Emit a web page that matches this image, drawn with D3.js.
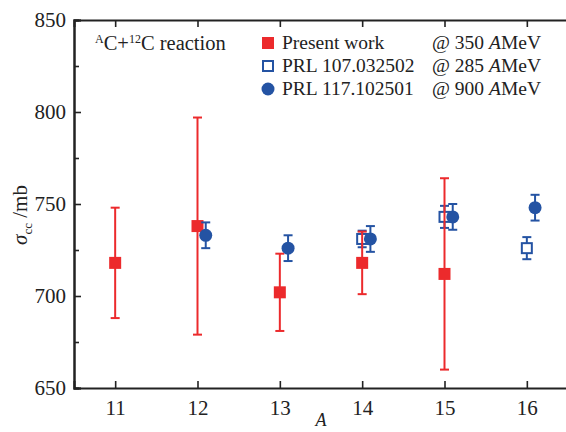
<!DOCTYPE html>
<html><head><meta charset="utf-8">
<script src="https://cdn.jsdelivr.net/npm/d3@7"></script>
<style>body{margin:0;background:#fff}svg{display:block}svg text{font-family:"Liberation Serif","Times New Roman",serif}</style>
</head><body>
<svg id="c" width="566" height="432" font-family="Liberation Serif"></svg>
<script>
const massNumbers = [11, 12, 13, 14, 15, 16];
const yTicks = [650, 700, 750, 800, 850];
const presentA = [11, 12, 13, 14, 15];
const presentVal = [718, 738, 702, 718, 712];
const presentLo = [688, 679, 681, 701, 660];
const presentHi = [748, 797, 723, 735, 764];
const prl107A = [14, 15, 16];
const prl107Val = [731, 743, 726];
const prl107Err = [4.5, 6, 6];
const prl117A = [12, 13, 14, 15, 16];
const prl117Val = [733, 726, 731, 743, 748];
const prl117Err = [7, 7, 7, 7, 7];

const RED = "#ec2a2c", BLUE = "#2453a3";
const SERIF = "'Liberation Serif','Times New Roman',serif";
const svg = d3.select("#c");
const x = d3.scaleLinear().domain([10.5, 16.5]).range([74, 568]);
const y = d3.scaleLinear().domain([650, 850]).range([388, 20]);

// axes
const gx = svg.append("g").attr("transform", "translate(0,388)")
  .call(d3.axisBottom(x).tickValues(massNumbers).tickSize(-7).tickPadding(12).tickFormat(d3.format("d")));
const gxTop = svg.append("g").attr("transform", "translate(0,20)")
  .call(d3.axisTop(x).tickValues(massNumbers).tickSize(-7).tickFormat(""));
const gy = svg.append("g").attr("transform", "translate(74,0)")
  .call(d3.axisLeft(y).tickValues(yTicks).tickSize(-7).tickPadding(8));
const gyMinor = svg.append("g").attr("transform", "translate(74,0)")
  .call(d3.axisLeft(y).tickValues([675, 725, 775, 825]).tickSize(-5).tickFormat(""));
[gx, gxTop, gy, gyMinor].forEach(g => {
  g.attr("font-family", null);
  g.select(".domain").attr("stroke", "#222").attr("stroke-width", 2);
  g.selectAll(".tick line").attr("stroke", "#222").attr("stroke-width", 1.6);
  g.selectAll("text").attr("fill", "#222").style("font-size", "21px").style("font-family", SERIF);
});
gxTop.selectAll(".tick line").attr("y2", 7);

function errBar(g, cx, lo, hi, color, cap, w) {
  g.append("line").attr("x1", cx).attr("x2", cx).attr("y1", y(lo)).attr("y2", y(hi)).attr("stroke", color).attr("stroke-width", w);
  [lo, hi].forEach(v => g.append("line").attr("x1", cx - cap).attr("x2", cx + cap).attr("y1", y(v)).attr("y2", y(v)).attr("stroke", color).attr("stroke-width", w));
}

const plot = svg.append("g");
// PRL 107 open squares
prl107A.forEach((a, i) => {
  const cx = x(a), v = prl107Val[i], e = prl107Err[i];
  errBar(plot, cx, v - e, v + e, BLUE, 4.5, 2);
  plot.append("rect").attr("x", cx - 5).attr("y", y(v) - 5).attr("width", 10).attr("height", 10)
    .attr("fill", "#fff").attr("stroke", BLUE).attr("stroke-width", 2);
});
// Present work red squares
presentA.forEach((a, i) => {
  const cx = x(a);
  errBar(plot, cx, presentLo[i], presentHi[i], RED, 4.5, 2);
  plot.append("rect").attr("x", cx - 6).attr("y", y(presentVal[i]) - 6).attr("width", 12).attr("height", 12).attr("fill", RED);
});
// PRL 117 filled circles
prl117A.forEach((a, i) => {
  const cx = x(a + 0.1), v = prl117Val[i], e = prl117Err[i];
  errBar(plot, cx, v - e, v + e, BLUE, 4.5, 2);
  plot.append("circle").attr("cx", cx).attr("cy", y(v)).attr("r", 6.5).attr("fill", BLUE);
});

function txt(sel) { return sel.attr("fill", "#222").style("font-family", SERIF); }

// reaction label
const t = txt(svg.append("text").attr("x", 95).attr("y", 50)).style("font-size", "20.5px");
t.append("tspan").text("A").attr("dy", -7).style("font-size", "12px");
t.append("tspan").text("C+").attr("dy", 7);
t.append("tspan").text("12").attr("dy", -7).style("font-size", "12px");
t.append("tspan").text("C reaction").attr("dy", 7);

// legend
const leg = [
  {name: "Present work", at: "@ 350 ", y: 43, type: "sq"},
  {name: "PRL 107.032502", at: "@ 285 ", y: 66, type: "open"},
  {name: "PRL 117.102501", at: "@ 900 ", y: 89, type: "circ"}
];
leg.forEach(d => {
  if (d.type === "sq") svg.append("rect").attr("x", 262).attr("y", d.y - 6).attr("width", 12).attr("height", 12).attr("fill", RED);
  if (d.type === "open") svg.append("rect").attr("x", 263).attr("y", d.y - 5).attr("width", 10).attr("height", 10).attr("fill", "#fff").attr("stroke", BLUE).attr("stroke-width", 2);
  if (d.type === "circ") svg.append("circle").attr("cx", 268).attr("cy", d.y).attr("r", 6.5).attr("fill", BLUE);
  txt(svg.append("text").attr("x", 282).attr("y", d.y + 6)).style("font-size", "19.5px").text(d.name);
  const tt = txt(svg.append("text").attr("x", 432).attr("y", d.y + 6)).style("font-size", "19.5px");
  tt.append("tspan").text(d.at);
  tt.append("tspan").text("A").style("font-style", "italic");
  tt.append("tspan").text("MeV");
});

// axis titles
const yl = txt(svg.append("text").attr("transform", "translate(27,215) rotate(-90)").attr("text-anchor", "middle")).style("font-size", "21px");
yl.append("tspan").text("σ").style("font-style", "italic");
yl.append("tspan").text("cc").attr("dy", 5).style("font-size", "13px");
yl.append("tspan").text(" /mb").attr("dy", -5);
txt(svg.append("text").attr("x", 321).attr("y", 426).attr("text-anchor", "middle")).style("font-size", "18px").style("font-style", "italic").text("A");
</script>
</body></html>
